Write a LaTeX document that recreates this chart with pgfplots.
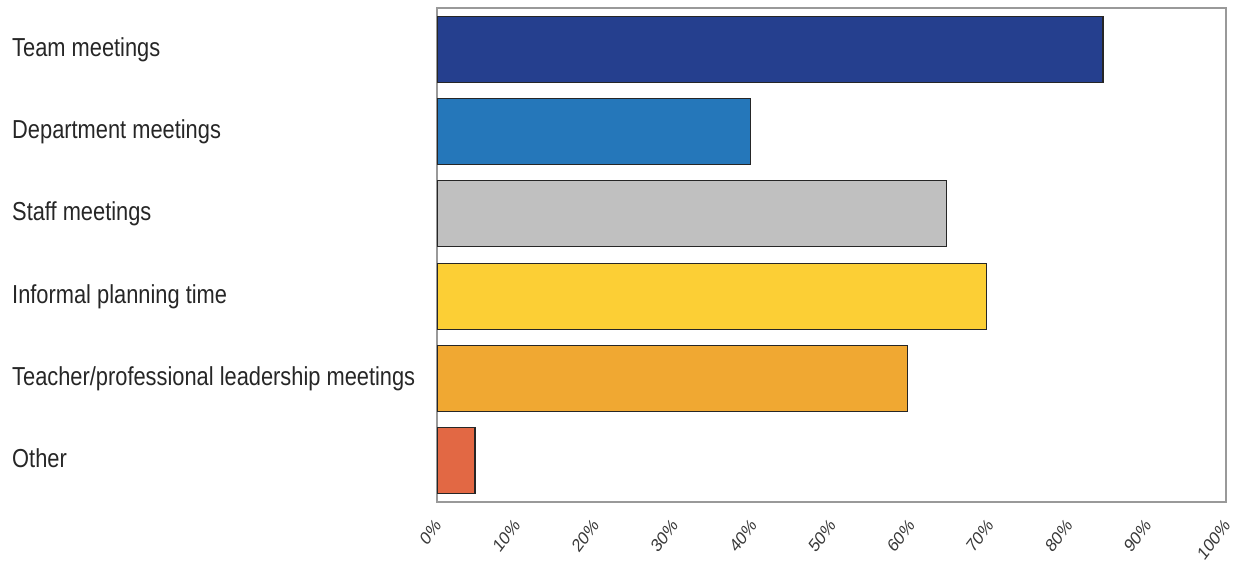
\documentclass[border=0pt]{standalone}
\usepackage{fontspec}
\setmainfont{Liberation Sans}[FakeStretch=0.84]
\newfontfamily\tickfont{Liberation Sans}
\usepackage{pgfplots}
\pgfplotsset{compat=1.18}
\definecolor{cTeam}{HTML}{253F8E}
\definecolor{cDept}{HTML}{2577BA}
\definecolor{cStaff}{HTML}{C0C0C0}
\definecolor{cInf}{HTML}{FCCF35}
\definecolor{cTeach}{HTML}{F0A832}
\definecolor{cOther}{HTML}{E26844}
\definecolor{txt}{HTML}{262626}
\definecolor{tick}{HTML}{383838}
\definecolor{frame}{HTML}{999999}
\begin{document}
\begin{tikzpicture}[x=1pt,y=1pt]
\path[use as bounding box] (0,0) rectangle (1233,563);
\begin{axis}[
  at={(437pt,61pt)}, anchor=south west,
  scale only axis, width=789pt, height=494pt,
  xbar, bar shift=0pt, bar width=66pt,
  xmin=0, xmax=100, ymin=-0.5, ymax=5.5, y dir=reverse,
  xtick={0,10,...,100},
  xticklabel={\pgfmathprintnumber{\tick}\%},
  /pgf/number format/assume math mode=true,
  ytick={0,1,2,3,4,5},
  yticklabels={Team meetings,Department meetings,Staff meetings,Informal planning time,Teacher/professional leadership meetings,Other},
  major tick length=0pt,
  axis line style={draw=frame, line width=1.3pt},
  yticklabel style={anchor=base west, xshift=-425pt, yshift=-7pt, inner sep=0pt, text=txt, font=\fontsize{26}{30}\selectfont},
  xticklabel style={xshift=1pt, yshift=-20pt, xscale=0.84, rotate=48, anchor=east, inner sep=0pt, text=tick, font=\tickfont\fontsize{18.5}{20}\selectfont},
  every axis plot/.append style={draw=black!85, line width=1.3pt},
]
\addplot[fill=cTeam] coordinates {(84.4,0)};
\addplot[fill=cDept] coordinates {(39.7,1)};
\addplot[fill=cStaff] coordinates {(64.6,2)};
\addplot[fill=cInf] coordinates {(69.6,3)};
\addplot[fill=cTeach] coordinates {(59.6,4)};
\addplot[fill=cOther] coordinates {(4.8,5)};
\end{axis}
\end{tikzpicture}
\end{document}
